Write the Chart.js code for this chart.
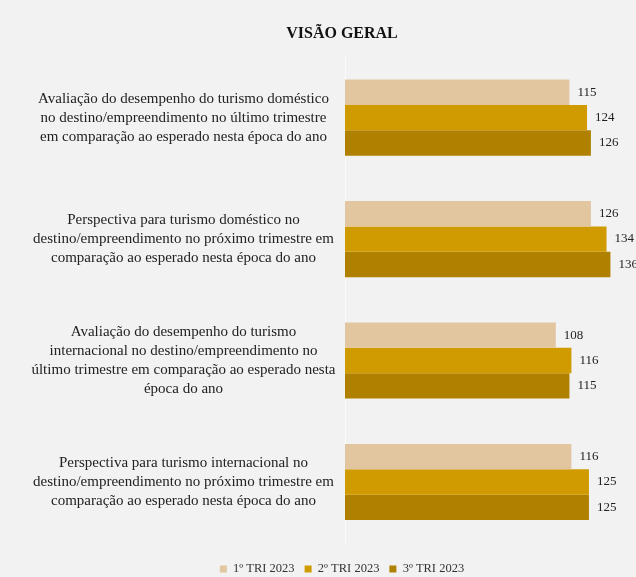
<!DOCTYPE html>
<html><head><meta charset="utf-8">
<script src="https://cdn.jsdelivr.net/npm/chart.js@4"></script>
<style>html,body{margin:0;padding:0;background:#f2f2f2;}#wrap{width:636px;height:577px;}</style>
</head><body><div id="wrap"><canvas id="c" width="636" height="577"></canvas></div>
<script>
const categories = [
  ["Avaliação do desempenho do turismo doméstico","no destino/empreendimento no último trimestre","em comparação ao esperado nesta época do ano"],
  ["Perspectiva para turismo doméstico no","destino/empreendimento no próximo trimestre em","comparação ao esperado nesta época do ano"],
  ["Avaliação do desempenho do turismo","internacional no destino/empreendimento no","último trimestre em comparação ao esperado nesta","época do ano"],
  ["Perspectiva para turismo internacional no","destino/empreendimento no próximo trimestre em","comparação ao esperado nesta época do ano"]
];
const seriesNames = ["1º TRI 2023","2º TRI 2023","3º TRI 2023"];
const tri1 = [115,126,108,116];
const tri2 = [124,134,116,125];
const tri3 = [126,136,115,125];
const colors = ["#e2c6a0","#d09b00","#b08000"];
const FONT = "'Liberation Serif', 'DejaVu Serif', serif";

const valueLabels = {
  id:'valueLabels',
  afterDatasetsDraw(chart){
    const ctx = chart.ctx;
    ctx.save();
    ctx.font = "13px " + FONT;
    ctx.fillStyle = "#222";
    ctx.textAlign = "left";
    ctx.textBaseline = "middle";
    chart.data.datasets.forEach((ds,i)=>{
      const meta = chart.getDatasetMeta(i);
      meta.data.forEach((el,j)=>{
        ctx.fillText(String(ds.data[j]), el.x + 8, el.y);
      });
    });
    ctx.restore();
  }
};

new Chart(document.getElementById('c'), {
  type:'bar',
  data:{
    labels: categories,
    datasets:[
      {label:seriesNames[0], data:tri1, backgroundColor:colors[0]},
      {label:seriesNames[1], data:tri2, backgroundColor:colors[1]},
      {label:seriesNames[2], data:tri3, backgroundColor:colors[2]}
    ]
  },
  options:{
    indexAxis:'y',
    responsive:false,
    animation:false,
    layout:{padding:{left:18,right:-30,top:14,bottom:0}},
    datasets:{bar:{barPercentage:1,categoryPercentage:0.627,borderWidth:0}},
    scales:{
      x:{display:false,min:0,max:149.1},
      y:{
        grid:{display:false,drawTicks:false},
        border:{display:true,color:'#fbfbfb',width:1},
        ticks:{crossAlign:'center',padding:9.5,color:'#222',font:{family:FONT,size:15,lineHeight:1.27}},
        afterFit(s){ s.width = 345-18; s.paddingTop = 0; s.paddingBottom = 0; }
      }
    },
    plugins:{
      title:{display:true,text:'VISÃO GERAL',color:'#111',font:{family:FONT,size:16,weight:'bold'},padding:{top:10,bottom:13.7}},
      legend:{position:'bottom',maxHeight:34.3,
        title:{display:true,text:' ',font:{size:1},padding:{top:8.85,bottom:0}},
        labels:{boxWidth:7,boxHeight:7,color:'#333',font:{family:FONT,size:12.5},padding:10}},
      tooltip:{enabled:false}
    }
  },
  plugins:[valueLabels]
});
</script></body></html>
